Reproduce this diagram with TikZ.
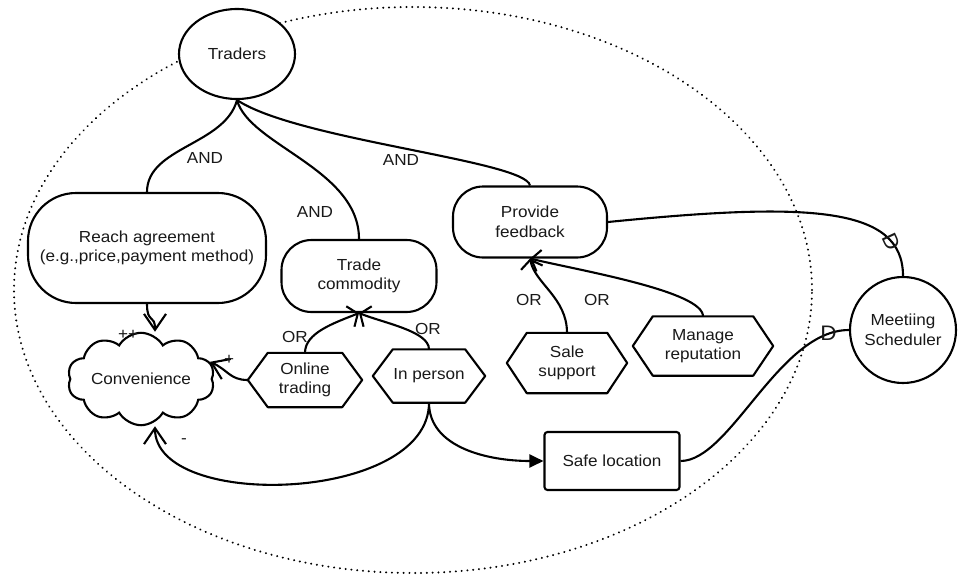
\documentclass[tikz,border=0pt]{standalone}
\usepackage{fontspec}
\setmainfont{Liberation Sans}[FakeStretch=1.07]
\usetikzlibrary{shapes.geometric,shapes.symbols,arrows.meta}

% hexagonal outline around a (rectangular, undrawn) task node
\newcommand\hexoutline[2][20pt]{%
  \draw[hexline] (#2.west) -- ([xshift=#1]#2.north west) -- ([xshift=-#1]#2.north east)
    -- (#2.east) -- ([xshift=-#1]#2.south east) -- ([xshift=#1]#2.south west) -- cycle;}

\begin{document}
\begin{tikzpicture}[x=1pt,y=-1pt,
  every node/.style={font=\fontsize{16}{19.5}\selectfont, text=black!90},
  lw/.style={line width=2.1pt},
  link/.style={lw},
  actorshape/.style={draw, lw, fill=white, align=center, inner sep=0pt},
  goal/.style={draw, lw, fill=white, rectangle, align=center},
  task/.style={rectangle, align=center, inner sep=0pt},
  hexline/.style={lw, line join=round, fill=white},
  orlink/.style={link, -{Straight Barb[length=8pt,width=22pt]}},
  contrib/.style={link, -{Straight Barb[length=16pt,width=22pt]}},
  means/.style={link, -{Triangle[length=14pt,width=13pt]}},
  lbl/.style={inner sep=1pt},
  depmark/.style={inner sep=0pt, font=\fontsize{21}{21}\selectfont},
  boundary/.style={line width=2.2pt, dash pattern=on 0.01pt off 5.8pt, line cap=round}
]
\useasboundingbox (0,0) rectangle (958,576);

% actor boundary
\draw[boundary] (413,290) ellipse [x radius=399pt, y radius=283pt];

% actors
\node[actorshape, ellipse, minimum width=116pt, minimum height=90pt] (tr) at (237,54) {Traders};
\node[actorshape, circle, minimum size=106pt] (ms) at (903,330) {Meetiing\\Scheduler};

% goals
\node[goal, rounded corners=48pt, minimum width=238pt, minimum height=110pt] (ra) at (147,248)
  {Reach agreement\\(e.g.,price,payment method)};
\node[goal, rounded corners=30pt, minimum width=155pt, minimum height=72pt] (tc) at (359,276) {Trade\\commodity};
\node[goal, rounded corners=30pt, minimum width=154pt, minimum height=71pt] (pf) at (530,222) {Provide\\feedback};

% tasks
\node[task, minimum width=114pt, minimum height=54pt] (ot) at (305,380) {};
\node[task, minimum width=112pt, minimum height=53pt] (ip) at (429,376) {};
\node[task, minimum width=120pt, minimum height=60pt] (ss) at (567,363) {};
\node[task, minimum width=140pt, minimum height=59pt] (mr) at (703,346) {};
\hexoutline{ot}\hexoutline{ip}\hexoutline{ss}\hexoutline{mr}
\node[align=center] at (ot) {Online\\trading};
\node[align=center] at (ip) {In person};
\node[align=center] at (ss) {Sale\\support};
\node[align=center] at (mr) {Manage\\reputation};

% softgoal and resource
\node[draw, lw, fill=white, cloud, cloud puffs=10, cloud puff arc=120, aspect=2, inner sep=0pt,
  minimum width=133pt, minimum height=70pt] (cv) at (141,379) {Convenience};
\node[draw, lw, fill=white, rectangle, rounded corners=3pt, minimum width=135pt, minimum height=58pt]
  (sl) at (612,461) {Safe location};

% AND decomposition of the actor's root
\draw[link] (tr.south) .. controls +(-12,45) and +(0,-45) .. (ra.north);
\draw[link] (tr.south) .. controls +(12,45) and +(0,-70) .. (tc.north);
\draw[link] (tr.south) .. controls +(60,40) and +(-5,-25) .. (pf.north);
\node[lbl] (and1) at (205,158) {AND};
\node[lbl] (and2) at (315,212) {AND};
\node[lbl] (and3) at (401,160) {AND};

% OR refinements
\draw[orlink] (ot.north) .. controls +(0,-20) and +(-25,10) .. (tc.south);
\draw[orlink] (ip.north) .. controls +(0,-18) and +(25,10) .. (tc.south);
\draw[orlink] (ss.north) .. controls +(0,-35) and +(5,25) .. (pf.south);
\draw[orlink] (mr.north) .. controls +(0,-25) and +(50,12) .. (pf.south);
\node[lbl] (or1) at (295,337) {OR};
\node[lbl] (or2) at (428,329) {OR};
\node[lbl] (or3) at (529,300) {OR};
\node[lbl] (or4) at (597,300) {OR};

% contributions to the softgoal
\draw[contrib] (ra.south) .. controls +(0,20) and +(0,-18) .. ([xshift=14pt]cv.north);
\draw[contrib] (ot.west) .. controls +(-18,0) and +(18,8) .. (cv.14);
\draw[contrib] (ip.south) .. controls +(0,100) and +(0,85) .. ([xshift=14pt]cv.south);
\node[lbl] (pp) at (128,335) {++};
\node[lbl] (p) at (229,360) {+};
\node[lbl] (m) at (184,441) {-};

% means-end to the resource
\draw[means] (ip.south) .. controls +(0,45) and +(-55,0) .. (sl.west);

% dependencies on the scheduler
\draw[link] (pf.east) .. controls +(200,-20) and +(0,-70) ..
  node[depmark, pos=0.8, rotate=-65] (d1) {D} (ms.north);
\draw[link] (sl.east) .. controls +(50,0) and +(-70,0) ..
  node[depmark, pos=0.9] (d2) {D} (ms.west);
\end{tikzpicture}
\end{document}
